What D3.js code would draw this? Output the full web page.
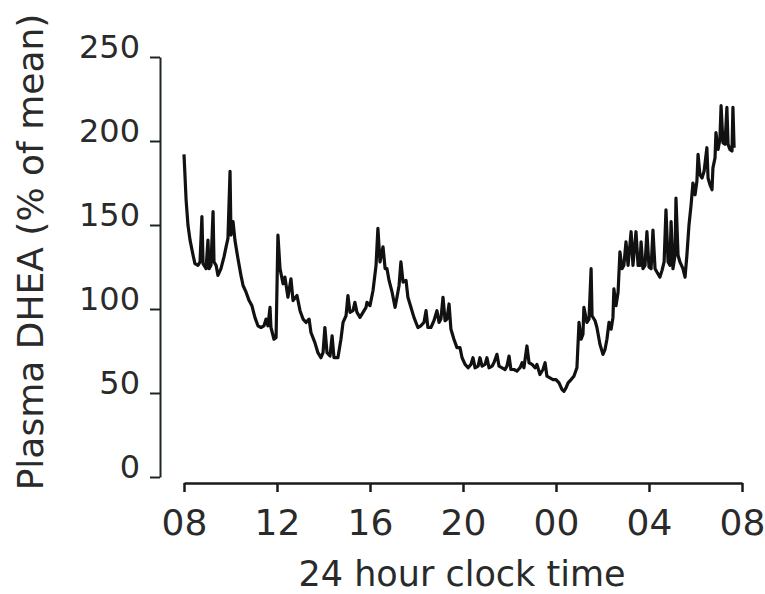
<!DOCTYPE html>
<html>
<head>
<meta charset="utf-8">
<script src="https://cdn.jsdelivr.net/npm/d3@7"></script>
<style>
  body { margin: 0; background: #fff; }
  svg { display: block; }
  text { font-family: "DejaVu Sans", Verdana, sans-serif; fill: #2a2a2a; }
</style>
</head>
<body>
<script>
// hours since 08:00 and plasma DHEA (% of mean)
let hours = [
  0.00,0.09,0.17,0.26,0.39,0.47,0.60,0.69,0.77,0.82,0.95,1.03,1.08,1.16,1.25,1.29,1.38,1.46,1.59,1.72,
  1.81,1.89,1.98,2.02,2.11,2.19,2.32,2.45,2.54,2.67,2.80,2.92,3.05,3.18,3.31,3.44,3.53,3.61,3.70,3.74,
  3.87,3.96,4.04,4.13,4.26,4.34,4.47,4.60,4.69,4.86,4.99,5.12,5.25,5.38,5.46,5.63,5.76,5.89,5.98,6.06,
  6.15,6.28,6.37,6.45,6.62,6.75,6.84,6.97,7.05,7.14,7.27,7.35,7.44,7.57,7.70,7.83,7.87,8.00,8.13,8.26,
  8.34,8.43,8.56,8.65,8.73,8.82,8.95,9.08,9.16,9.25,9.33,9.42,9.55,9.63,9.76,9.89,10.06,10.19,10.32,10.41,
  10.49,10.62,10.75,10.88,10.97,11.05,11.14,11.23,11.31,11.40,11.48,11.61,11.74,11.87,11.96,12.09,12.22,12.34,12.43,12.52,
  12.65,12.73,12.82,12.95,13.03,13.12,13.25,13.33,13.46,13.55,13.68,13.81,13.89,13.98,14.06,14.19,14.32,14.45,14.54,14.62,
  14.75,14.84,14.97,15.10,15.18,15.31,15.44,15.53,15.61,15.74,15.87,16.00,16.13,16.26,16.34,16.43,16.52,16.65,16.77,16.90,
  16.99,17.08,17.16,17.20,17.33,17.42,17.51,17.55,17.68,17.76,17.89,18.02,18.11,18.19,18.28,18.37,18.45,18.49,18.58,18.67,
  18.75,18.84,18.92,19.01,19.10,19.23,19.31,19.44,19.53,19.61,19.66,19.74,19.83,19.91,20.00,20.09,20.17,20.26,20.34,20.47,
  20.56,20.65,20.73,20.82,20.90,20.95,21.03,21.12,21.16,21.25,21.33,21.46,21.55,21.63,21.72,21.81,21.89,21.98,22.06,22.11,
  22.19,22.28,22.37,22.49,22.54,22.62,22.71,22.75,22.84,22.88,22.97,23.05,23.10,23.18,23.27,23.35,23.40,23.48,23.57,23.61,
  23.66
];
let dhea = [
  192,165,150,141,132,127,126,128,155,127,124,141,124,126,158,128,126,120,124,131,
  137,142,182,144,152,141,130,120,114,110,105,102,95,90,89,90,94,90,101,89,
  82,83,144,124,115,119,107,118,105,108,99,94,92,94,86,80,74,71,74,89,
  74,72,84,71,71,82,92,96,108,98,99,104,98,95,98,101,104,102,111,126,
  148,128,137,124,124,117,110,101,107,114,128,116,117,107,101,95,89,90,92,99,
  89,89,93,99,92,94,107,93,94,103,88,82,77,77,71,67,65,67,71,65,
  66,71,66,67,71,65,66,68,73,66,65,64,66,72,64,64,63,65,68,65,
  78,68,67,65,67,61,64,68,60,59,58,58,56,52,51,53,56,58,60,65,
  92,82,85,101,92,94,124,96,93,89,79,73,76,82,92,88,95,112,102,110,
  134,124,126,140,126,146,126,146,126,126,140,124,126,146,125,124,147,124,122,119,
  123,128,159,128,126,152,124,132,166,132,128,124,119,132,150,162,175,168,176,192,
  180,178,182,196,178,174,171,184,190,205,195,201,221,199,198,220,198,195,194,220,
  196
];

let yTicks = [0, 50, 100, 150, 200, 250];
let xTicks = [0, 4, 8, 12, 16, 20, 24];
let xTickLabels = ["08", "12", "16", "20", "00", "04", "08"];

let width = 765,
    height = 594;

let svg = d3.select("body")
            .append("svg")
            .attr("width", width)
            .attr("height", height);

let x = d3.scaleLinear().domain([0, 24]).range([184, 742]);
let y = d3.scaleLinear().domain([0, 250]).range([477, 57]);

// y axis
let yAxis = svg.append("g")
    .attr("transform", "translate(160,0)")
    .call(d3.axisLeft(y).tickValues(yTicks).tickSize(10).tickPadding(10).tickSizeOuter(0));
yAxis.select(".domain").attr("stroke", "#1c2626").attr("stroke-width", 2);
yAxis.selectAll(".tick line").attr("stroke", "#1c2626").attr("stroke-width", 2);
yAxis.selectAll(".tick text")
    .attr("fill", "#2a2a2a")
    .attr("dy", "0em")
    .style("font-size", "32px")
    .style("font-family", "DejaVu Sans, Verdana, sans-serif");

// x axis
let xAxis = svg.append("g")
    .attr("transform", "translate(0,483)")
    .call(d3.axisBottom(x).tickValues(xTicks)
        .tickFormat(function(d, i){ return xTickLabels[i]; })
        .tickSize(9).tickPadding(17).tickSizeOuter(0));
xAxis.select(".domain").attr("stroke", "#1a1a1a").attr("stroke-width", 2.5);
xAxis.selectAll(".tick line").attr("stroke", "#1a1a1a").attr("stroke-width", 2.5);
xAxis.selectAll(".tick text")
    .attr("fill", "#2a2a2a")
    .style("font-size", "36px")
    .style("font-family", "DejaVu Sans, Verdana, sans-serif");

// axis titles
svg.append("text")
    .attr("transform", "translate(43,252) rotate(-90)")
    .attr("text-anchor", "middle")
    .style("font-size", "36px")
    .text("Plasma DHEA (% of mean)");

svg.append("text")
    .attr("x", 462)
    .attr("y", 586)
    .attr("text-anchor", "middle")
    .style("font-size", "35px")
    .text("24 hour clock time");

// trace
let line = d3.line()
    .x(function(d, i){ return x(hours[i]); })
    .y(function(d){ return y(d); });

svg.append("path")
    .datum(dhea)
    .attr("d", line)
    .attr("fill", "none")
    .attr("stroke", "#111")
    .attr("stroke-width", 3.2)
    .attr("stroke-linejoin", "round");
</script>
</body>
</html>
